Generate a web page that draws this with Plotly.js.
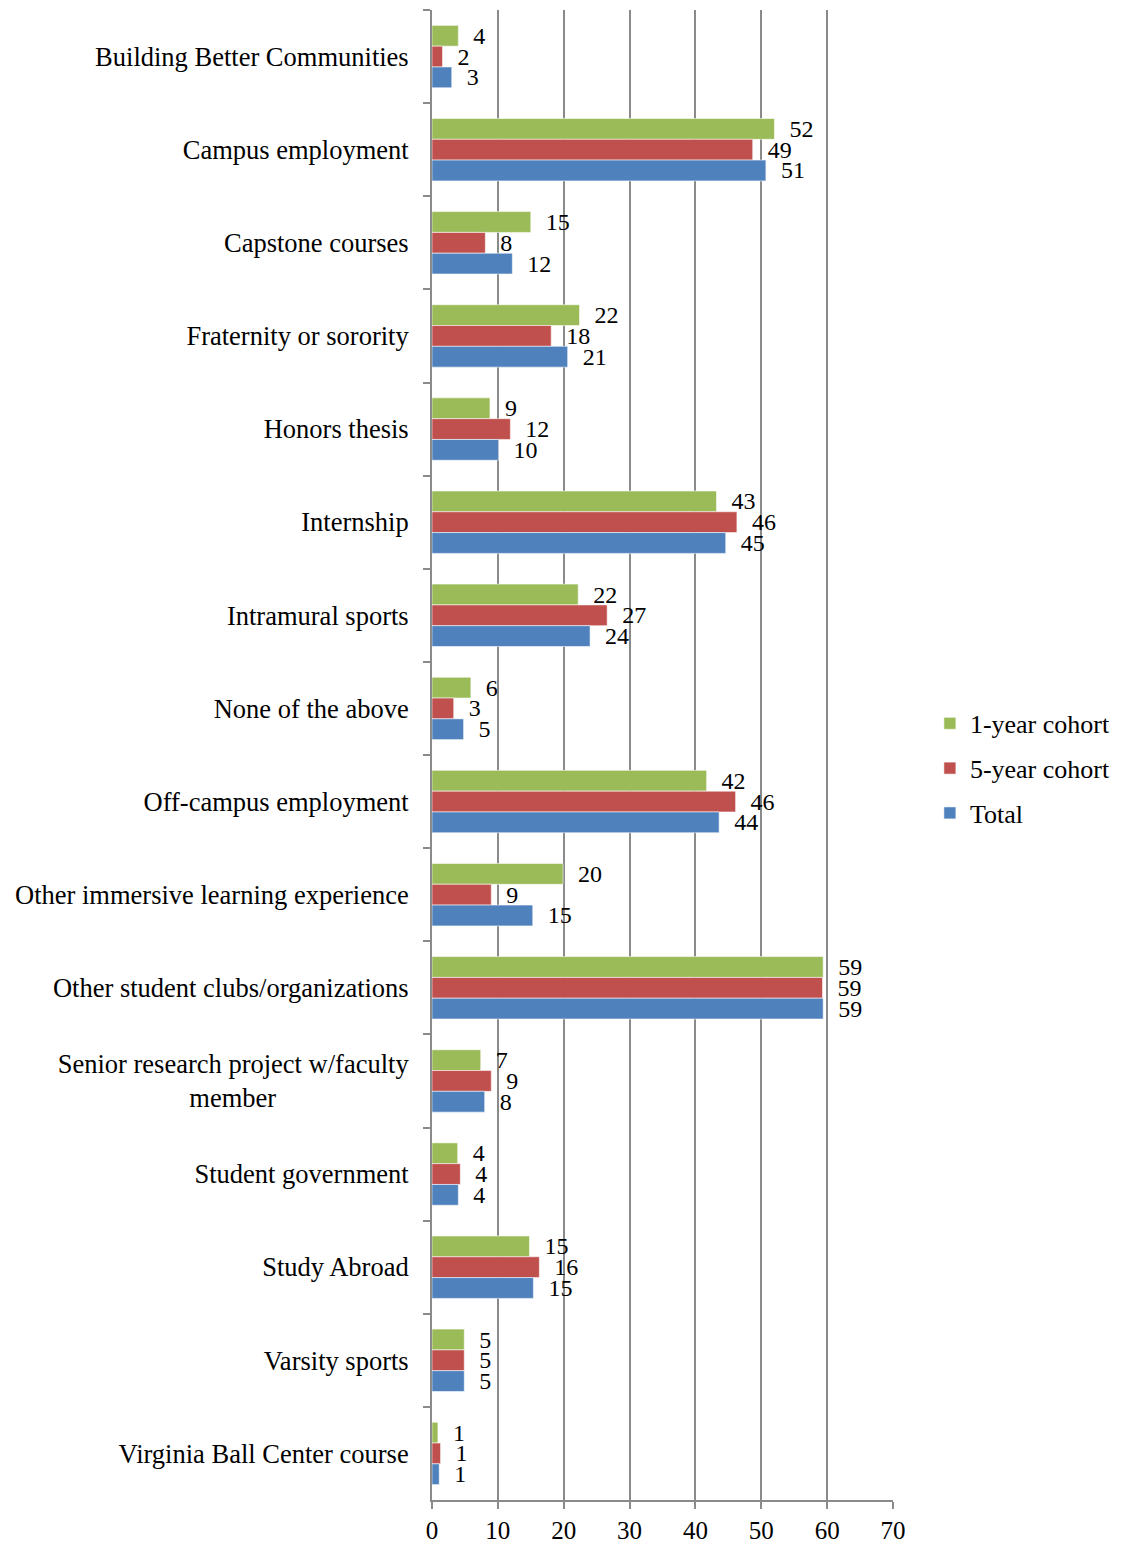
<!DOCTYPE html>
<html>
<head>
<meta charset="utf-8">
<script src="https://cdn.plot.ly/plotly-3.0.1.min.js"></script>
<style>
  html, body { margin: 0; padding: 0; background: #fff; }
  #chart { width: 1129px; height: 1558px; }
</style>
</head>
<body>
<div id="chart"></div>
<script>
// Participation in activities (%), by cohort
const NB = '\u00a0';
const categories = [
  'Building Better Communities',
  'Campus employment',
  'Capstone courses',
  'Fraternity or sorority',
  'Honors thesis',
  'Internship',
  'Intramural sports',
  'None of the above',
  'Off-campus employment',
  'Other immersive learning experience',
  'Other student clubs/organizations',
  'Senior research project w/faculty<br>member' + NB.repeat(20),
  'Student government',
  'Study Abroad',
  'Varsity sports',
  'Virginia Ball Center course'
];
const oneYear  = [4.0, 52.0, 15.0, 22.4, 8.8, 43.2, 22.2, 5.9, 41.7, 19.9, 59.4, 7.4, 3.9, 14.8, 4.9, 0.9];
const fiveYear = [1.6, 48.7, 8.1, 18.1, 11.9, 46.3, 26.6, 3.3, 46.1, 9.0, 59.3, 9.0, 4.3, 16.3, 4.9, 1.3];
const total    = [3.0, 50.7, 12.2, 20.6, 10.1, 44.6, 24.0, 4.8, 43.6, 15.3, 59.4, 8.0, 4.0, 15.4, 4.9, 1.1];
const xTicks = [0, 10, 20, 30, 40, 50, 60, 70];

const serif = 'Liberation Serif, Times New Roman, serif';

function series(name, values, color, group) {
  return {
    type: 'bar',
    orientation: 'h',
    name: name,
    legendgroup: group,
    x: values,
    y: categories,
    marker: { color: color, line: { color: 'rgba(255,255,255,0.55)', width: 1 } },
    text: values,
    texttemplate: NB + NB + '%{x:.0f}',
    textposition: 'outside',
    constraintext: 'none',
    cliponaxis: false,
    textfont: { family: serif, size: 24, color: '#000' },
    hoverinfo: 'x+name'
  };
}

const data = [
  series('1-year cohort', oneYear, '#9BBB59', 'a'),
  series('5-year cohort', fiveYear, '#C0504D', 'b'),
  series('Total', total, '#4F81BD', 'c')
];

const layout = {
  width: 1129,
  height: 1558,
  margin: { l: 432, r: 236, t: 10, b: 58 },
  paper_bgcolor: '#fff',
  plot_bgcolor: '#fff',
  barmode: 'group',
  bargap: 0.33,
  bargroupgap: 0,
  font: { family: serif, size: 26, color: '#000' },
  showlegend: true,
  legend: {
    x: 1.08, xanchor: 'left',
    y: 0.491, yanchor: 'middle',
    traceorder: 'grouped',
    tracegroupgap: 8,
    font: { family: serif, size: 26, color: '#000' },
    bgcolor: 'rgba(0,0,0,0)'
  },
  xaxis: {
    range: [0, 70],
    tickvals: xTicks,
    ticktext: xTicks.map(String),
    showgrid: true,
    gridcolor: '#8a8a8a',
    gridwidth: 2,
    zeroline: false,
    showline: true,
    linecolor: '#8a8a8a',
    linewidth: 2,
    ticks: 'outside',
    ticklen: 7,
    tickwidth: 2,
    tickcolor: '#8a8a8a',
    tickfont: { family: serif, size: 25, color: '#000' },
    fixedrange: true
  },
  yaxis: {
    type: 'category',
    autorange: 'reversed',
    showgrid: false,
    zeroline: false,
    showline: true,
    linecolor: '#8a8a8a',
    linewidth: 2,
    ticks: 'outside',
    tickson: 'boundaries',
    ticklen: 7,
    tickwidth: 2,
    tickcolor: '#8a8a8a',
    ticklabelstandoff: 16,
    tickfont: { family: serif, size: 26.5, color: '#000' },
    fixedrange: true
  }
};

Plotly.newPlot('chart', data, layout, { displayModeBar: false, staticPlot: true });
</script>
</body>
</html>
